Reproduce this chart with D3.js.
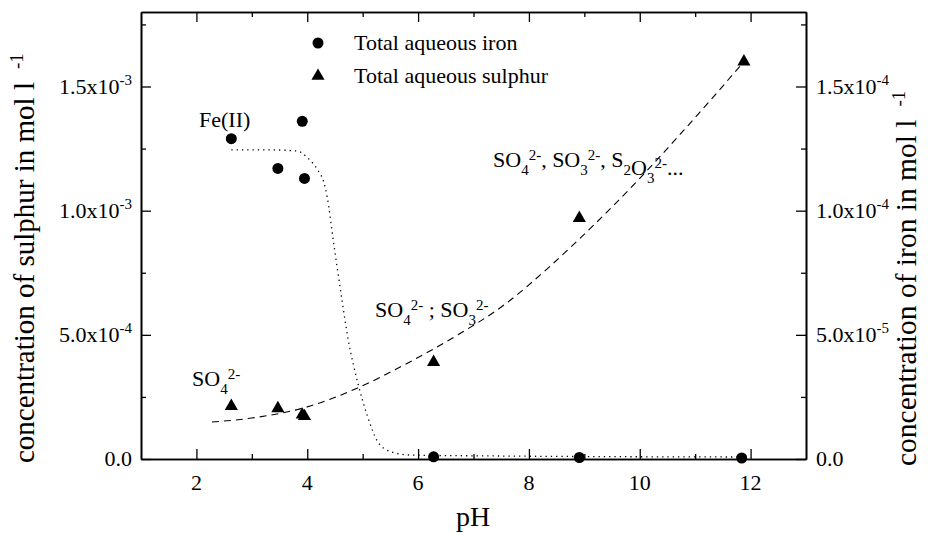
<!DOCTYPE html>
<html>
<head>
<meta charset="utf-8">
<script src="https://cdn.jsdelivr.net/npm/d3@7"></script>
<style>
  body { margin: 0; background: #fff; }
  svg text { font-family: "Liberation Serif", "Times New Roman", serif; fill: #000; }
  .axis path, .axis line { stroke: #000; }
</style>
</head>
<body>
<div id="chart"></div>
<script>
// measured points
const ironPH = [2.63, 3.47, 3.91, 3.95, 6.28, 8.91, 11.84];
const ironConc = [1.29e-4, 1.17e-4, 1.36e-4, 1.13e-4, 0.9e-6, 0.6e-6, 0.4e-6];
const sulphurPH = [2.63, 3.47, 3.91, 3.95, 6.28, 8.91, 11.88];
const sulphurConc = [2.13e-4, 2.04e-4, 1.78e-4, 1.72e-4, 3.9e-4, 9.7e-4, 1.60e-3];

// fitted curves
const ironFitPH = [2.63, 3.3, 3.82, 4.02, 4.2, 4.29, 4.36, 4.47, 4.6, 4.74, 4.92, 5.09, 5.27, 5.5, 5.86, 7.5, 11.84];
const ironFitConc = [1.245e-4, 1.245e-4, 1.24e-4, 1.21e-4, 1.16e-4, 1.12e-4, 1.055e-4, 8.8e-5, 6.8e-5, 4.8e-5, 3.0e-5, 1.7e-5, 7e-6, 3e-6, 1.6e-6, 1.2e-6, 0.8e-6];
const sulphurFitPH = [2.28, 3.0, 4.0, 4.9, 5.8, 6.71, 7.55, 8.4, 9.17, 10.0, 10.8, 11.88];
const sulphurFitConc = [1.49e-4, 1.65e-4, 2.1e-4, 2.85e-4, 3.85e-4, 4.99e-4, 6.2e-4, 7.8e-4, 9.42e-4, 1.13e-3, 1.325e-3, 1.60e-3];

// ticks
const xTicks = [2, 4, 6, 8, 10, 12];
const xMinorTicks = [3, 5, 7, 9, 11];
const leftTicks = [0, 5e-4, 1e-3, 1.5e-3];
const leftMinorTicks = [2.5e-4, 7.5e-4, 1.25e-3, 1.75e-3];
const leftTickLabels = [["0.0", ""], ["5.0x10", "-4"], ["1.0x10", "-3"], ["1.5x10", "-3"]];
const rightTicks = [0, 5e-5, 1e-4, 1.5e-4];
const rightMinorTicks = [2.5e-5, 7.5e-5, 1.25e-4, 1.75e-4];
const rightTickLabels = [["0.0", ""], ["5.0x10", "-5"], ["1.0x10", "-4"], ["1.5x10", "-4"]];

const margin = { top: 12, right: 122, bottom: 74, left: 141 };
const width = 928 - margin.left - margin.right;
const height = 533 - margin.top - margin.bottom;

const svg = d3.select('#chart')
  .append('svg')
  .attr('width', 928)
  .attr('height', 533);

const g = svg.append('g')
  .attr('transform', 'translate(' + margin.left + ',' + margin.top + ')');

const xScale = d3.scaleLinear().domain([1, 13]).range([0, width]);
const ySulphur = d3.scaleLinear().domain([0, 1.8e-3]).range([height, 0]);
const yIron = d3.scaleLinear().domain([0, 1.8e-4]).range([height, 0]);

// axes, ticks pointing inwards
const addAxis = (axis, transform) => {
  g.append('g')
    .attr('class', 'axis')
    .attr('transform', transform)
    .call(axis)
    .call(s => s.selectAll('text').remove())
    .call(s => s.select('.domain').attr('stroke-width', 1.6))
    .call(s => s.selectAll('.tick line').attr('stroke-width', 1.3));
};

addAxis(d3.axisBottom(xScale).tickValues(xTicks).tickSizeInner(-10).tickSizeOuter(0), 'translate(0,' + height + ')');
addAxis(d3.axisBottom(xScale).tickValues(xMinorTicks).tickSizeInner(-5).tickSizeOuter(0), 'translate(0,' + height + ')');
addAxis(d3.axisTop(xScale).tickValues(xTicks).tickSizeInner(-10).tickSizeOuter(0), 'translate(0,0)');
addAxis(d3.axisTop(xScale).tickValues(xMinorTicks).tickSizeInner(-5).tickSizeOuter(0), 'translate(0,0)');
addAxis(d3.axisLeft(ySulphur).tickValues(leftTicks).tickSizeInner(-10).tickSizeOuter(0), 'translate(0,0)');
addAxis(d3.axisLeft(ySulphur).tickValues(leftMinorTicks).tickSizeInner(-5).tickSizeOuter(0), 'translate(0,0)');
addAxis(d3.axisRight(yIron).tickValues(rightTicks).tickSizeInner(-10).tickSizeOuter(0), 'translate(' + width + ',0)');
addAxis(d3.axisRight(yIron).tickValues(rightMinorTicks).tickSizeInner(-5).tickSizeOuter(0), 'translate(' + width + ',0)');

// tick labels
g.selectAll('.x-label')
  .data(xTicks)
  .enter().append('text')
  .attr('x', d => xScale(d))
  .attr('y', height + 31)
  .attr('text-anchor', 'middle')
  .attr('font-size', 22)
  .text(d => d);

const expLabel = (sel, anchor) => {
  sel.attr('text-anchor', anchor).attr('font-size', 22);
  sel.append('tspan').text(d => d[1][0]);
  sel.append('tspan').attr('dy', -9).attr('font-size', 15).text(d => d[1][1]);
};

g.selectAll('.left-label')
  .data(leftTicks.map((t, i) => [t, leftTickLabels[i]]))
  .enter().append('text')
  .attr('x', -9)
  .attr('y', d => ySulphur(d[0]) + 7)
  .call(expLabel, 'end');

g.selectAll('.right-label')
  .data(rightTicks.map((t, i) => [t, rightTickLabels[i]]))
  .enter().append('text')
  .attr('x', width + 10)
  .attr('y', d => yIron(d[0]) + 7)
  .call(expLabel, 'start');

// axis titles
svg.append('text')
  .attr('x', 473)
  .attr('y', 526)
  .attr('text-anchor', 'middle')
  .attr('font-size', 28)
  .text('pH');

const yTitle = (x, y, size, label) => {
  const t = svg.append('text')
    .attr('transform', 'translate(' + x + ',' + y + ') rotate(-90)')
    .attr('font-size', size);
  t.append('tspan').text(label);
  t.append('tspan').attr('dx', 13).attr('dy', -11).attr('font-size', 19).text('-1');
};
yTitle(34, 463, 29, 'concentration of sulphur in mol l');
yTitle(916, 466, 29.5, 'concentration of iron in mol l');

// fitted curves
const ironLine = d3.line()
  .x(d => xScale(d[0]))
  .y(d => yIron(d[1]))
  .curve(d3.curveMonotoneX);

const sulphurLine = d3.line()
  .x(d => xScale(d[0]))
  .y(d => ySulphur(d[1]))
  .curve(d3.curveMonotoneX);

g.append('path')
  .datum(ironFitPH.map((p, i) => [p, ironFitConc[i]]))
  .attr('fill', 'none')
  .attr('stroke', '#000')
  .attr('stroke-width', 1.3)
  .attr('stroke-dasharray', '1.3,4')
  .attr('d', ironLine);

g.append('path')
  .datum(sulphurFitPH.map((p, i) => [p, sulphurFitConc[i]]))
  .attr('fill', 'none')
  .attr('stroke', '#000')
  .attr('stroke-width', 1.1)
  .attr('stroke-dasharray', '7,5')
  .attr('d', sulphurLine);

// points
g.selectAll('.iron')
  .data(ironPH.map((p, i) => [p, ironConc[i]]))
  .enter().append('circle')
  .attr('class', 'iron')
  .attr('cx', d => xScale(d[0]))
  .attr('cy', d => yIron(d[1]))
  .attr('r', 5.5)
  .attr('fill', '#000');

const triangle = d3.symbol().type(d3.symbolTriangle).size(75);

g.selectAll('.sulphur')
  .data(sulphurPH.map((p, i) => [p, sulphurConc[i]]))
  .enter().append('path')
  .attr('class', 'sulphur')
  .attr('transform', d => 'translate(' + xScale(d[0]) + ',' + ySulphur(d[1]) + ')')
  .attr('d', triangle)
  .attr('fill', '#000');

// legend
const legend = svg.append('g').attr('transform', 'translate(318,43)');
legend.append('circle').attr('r', 5.5).attr('fill', '#000');
legend.append('text').attr('x', 36).attr('y', 7).attr('font-size', 22).text('Total aqueous iron');
legend.append('path').attr('transform', 'translate(0,33)').attr('d', triangle).attr('fill', '#000');
legend.append('text').attr('x', 36).attr('y', 40).attr('font-size', 22).text('Total aqueous sulphur');

// annotations
const annotate = (x, y, parts) => {
  const t = svg.append('text').attr('x', x).attr('y', y).attr('font-size', 22);
  parts.forEach(p => {
    const s = t.append('tspan').text(p[0]);
    if (p[1] === 'sub') s.attr('dy', 8).attr('font-size', 15);
    if (p[1] === 'sup') s.attr('dy', -15).attr('font-size', 15);
    if (p[1] === 'base') s.attr('dy', 7);
  });
};

annotate(199, 127, [['Fe(II)']]);
annotate(192, 386, [['SO'], ['4', 'sub'], ['2-', 'sup'], ['', 'base']]);
annotate(375, 317, [['SO'], ['4', 'sub'], ['2-', 'sup'], [' ; SO', 'base'], ['3', 'sub'], ['2-', 'sup']]);
annotate(493, 167, [['SO'], ['4', 'sub'], ['2-', 'sup'], [', SO', 'base'], ['3', 'sub'], ['2-', 'sup'],
  [', S', 'base'], ['2', 'sub'], ['O', 'base2'], ['3', 'sub'], ['2-', 'sup'], ['...', 'base']]);
</script>
</body>
</html>
